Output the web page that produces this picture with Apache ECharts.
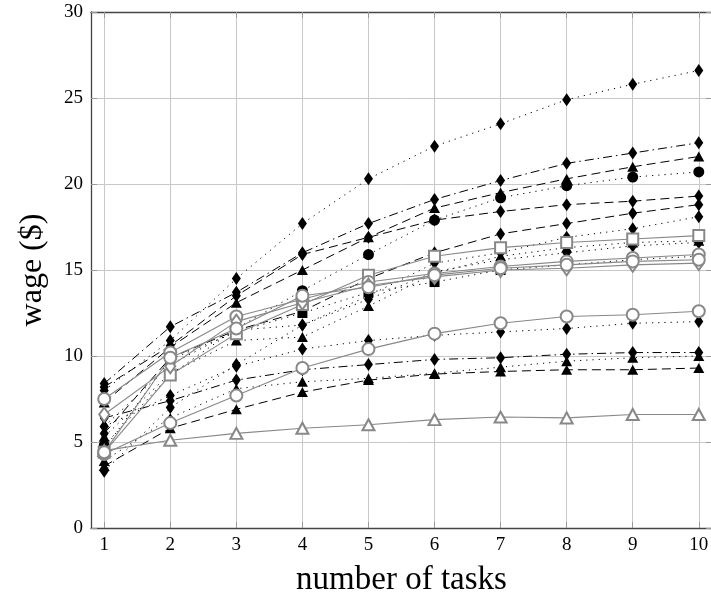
<!DOCTYPE html>
<html><head><meta charset="utf-8">
<script src="https://cdn.jsdelivr.net/npm/echarts@6/dist/echarts.min.js"></script>
<style>html,body{margin:0;padding:0;background:#fff}#c{width:711px;height:598px}</style>
</head><body><div id="c"></div>
<script>
const tasks = [1,2,3,4,5,6,7,8,9,10];
const yTicks = [0,5,10,15,20,25,30];
// black series
const blkDotDiamTop   = [8.0,10.9,14.5,17.7,20.3,22.2,23.5,24.9,25.8,26.6];
const blkDashDotDiam  = [8.4,11.7,13.7,16.0,17.7,19.1,20.2,21.2,21.8,22.4];
const blkDashTri      = [7.3,10.5,13.1,15.0,16.9,18.6,19.5,20.3,21.0,21.6];
const blkDotCircle    = [4.8,8.9,11.6,13.8,15.9,17.9,19.2,19.9,20.4,20.7];
const blkDashDiam1    = [8.2,10.6,13.5,15.9,16.9,17.9,18.4,18.8,19.0,19.3];
const blkDashDiam2    = [5.5,9.9,11.5,12.6,14.5,16.0,17.1,17.7,18.3,18.8];
const blkDotDiam2     = [5.9,9.5,11.5,11.8,13.5,15.4,16.0,16.9,17.4,18.1];
const blkDotTri1      = [5.3,9.0,10.9,11.1,12.9,14.8,15.8,16.3,16.6,16.7];
const blkDotSquare    = [4.6,9.8,11.4,12.5,13.7,14.3,15.0,15.3,15.6,15.8];
const blkDotDiam3     = [5.9,7.7,9.4,10.4,10.9,11.2,11.4,11.6,11.9,12.0];
const blkDashDotDiam2 = [6.4,7.4,8.6,9.2,9.5,9.8,9.9,10.1,10.2,10.2];
const blkDotTri2      = [3.9,6.4,8.1,8.5,8.7,9.0,9.35,9.7,9.9,10.0];
const blkDashTri2     = [3.6,5.8,6.9,7.9,8.6,8.95,9.1,9.2,9.2,9.3];
const blkDotDiam4     = [3.3,7.0,9.5,11.8,13.3,14.9,15.6,16.0,16.4,16.6];
// gray series
const grayTri     = [4.5,5.1,5.5,5.8,6.0,6.3,6.45,6.4,6.6,6.6];
const grayCircle  = [4.3,6.1,7.7,9.3,10.4,11.3,11.9,12.3,12.4,12.6];
const graySquare  = [4.4,8.9,11.3,13.0,14.7,15.8,16.3,16.6,16.8,17.0];
const grayCircle2 = [7.5,10.2,12.3,13.3,14.3,14.8,15.2,15.5,15.7,15.9];
const grayDiam    = [6.6,9.4,12.0,13.1,14.1,14.6,15.0,15.1,15.3,15.4];
const grayCircle3 = [4.4,9.9,11.6,13.5,14.0,14.7,15.1,15.3,15.5,15.6];

const DOT=[1.2,5], DASH=[9,5], DASHDOT=[9,4,1.5,4];
function blk(vals, sym, dash){
  const size = sym==='diamond'?[9,13]:(sym==='triangle'?[11,10]:(sym==='rect'?10:11));
  return {type:'line', data:tasks.map((x,i)=>[x,vals[i]]), symbol:sym, symbolSize:size,
    showAllSymbol:true, lineStyle:{color:'#000',width:1,type:dash},
    itemStyle:{color:'#000',borderColor:'#000',borderWidth:0}, emphasis:{disabled:true}, z:2};
}
function gray(vals, sym){
  const size = sym==='diamond'?[10,14]:(sym==='triangle'?[12,11]:(sym==='rect'?11:12));
  return {type:'line', data:tasks.map((x,i)=>[x,vals[i]]), symbol:'empty'+sym.charAt(0).toUpperCase()+sym.slice(1), symbolSize:size,
    showAllSymbol:true, lineStyle:{color:'#888',width:1.1,type:'solid'},
    itemStyle:{color:'#888',borderColor:'#888',borderWidth:1}, emphasis:{disabled:true}, z:3};
}
const series = [
  blk(blkDotDiamTop,'diamond',DOT),
  blk(blkDashDotDiam,'diamond',DASHDOT),
  blk(blkDashTri,'triangle',DASH),
  blk(blkDotCircle,'circle',DOT),
  blk(blkDashDiam1,'diamond',DASH),
  blk(blkDashDiam2,'diamond',DASH),
  blk(blkDotDiam2,'diamond',DOT),
  blk(blkDotTri1,'triangle',DOT),
  blk(blkDotSquare,'rect',DOT),
  blk(blkDotDiam3,'diamond',DOT),
  blk(blkDashDotDiam2,'diamond',DASHDOT),
  blk(blkDotTri2,'triangle',DOT),
  blk(blkDashTri2,'triangle',DASH),
  blk(blkDotDiam4,'diamond',DOT),
  gray(grayTri,'triangle'),
  gray(grayCircle,'circle'),
  gray(graySquare,'rect'),
  gray(grayCircle2,'circle'),
  gray(grayDiam,'diamond'),
  gray(grayCircle3,'circle')
];
const font = '"Liberation Serif", "DejaVu Serif", serif';
const chart = echarts.init(document.getElementById('c'), null, {renderer:'canvas'});
const xCommon = {type:'value', min:0.8, max:10.2,
  axisLine:{show:true,onZero:false,lineStyle:{color:'#444',width:1.3}},
  axisTick:{show:true,inside:true,length:6,customValues:tasks,lineStyle:{color:'#999'}},
  splitLine:{show:false}};
chart.setOption({
  animation:false,
  grid:{left:91, top:12, width:621, bottom:70, containLabel:false, outerBoundsMode:'none'},
  xAxis:[
    Object.assign({}, xCommon, {position:'bottom', name:'number of tasks', nameLocation:'middle', nameGap:36,
      nameTextStyle:{fontFamily:font,fontSize:33,color:'#000'},
      axisLabel:{customValues:tasks,fontFamily:font,fontSize:19,color:'#000',margin:8},
      splitLine:{show:true,lineStyle:{color:'#c8c8c8',width:1}}}),
    Object.assign({}, xCommon, {position:'top', axisLabel:{show:false}})
  ],
  yAxis:[
    {type:'value', min:0, max:30, interval:5, position:'left',
     name:'wage ($)', nameLocation:'middle', nameGap:42, nameRotate:90,
     nameTextStyle:{fontFamily:font,fontSize:32,color:'#000'},
     axisLine:{show:true,lineStyle:{color:'#444',width:1.3}},
     axisTick:{show:true,inside:true,length:6,lineStyle:{color:'#999'}},
     axisLabel:{formatter:v=>yTicks.includes(v)?String(v):'',fontFamily:font,fontSize:19,color:'#000',margin:8},
     splitLine:{show:true,lineStyle:{color:'#c8c8c8',width:1}}},
    {type:'value', min:0, max:30, interval:5, position:'right',
     axisLine:{show:true,lineStyle:{color:'#444',width:1.3}},
     axisTick:{show:true,inside:true,length:6,lineStyle:{color:'#999'}},
     axisLabel:{show:false}, splitLine:{show:false}}
  ],
  series: series
});
</script></body></html>
